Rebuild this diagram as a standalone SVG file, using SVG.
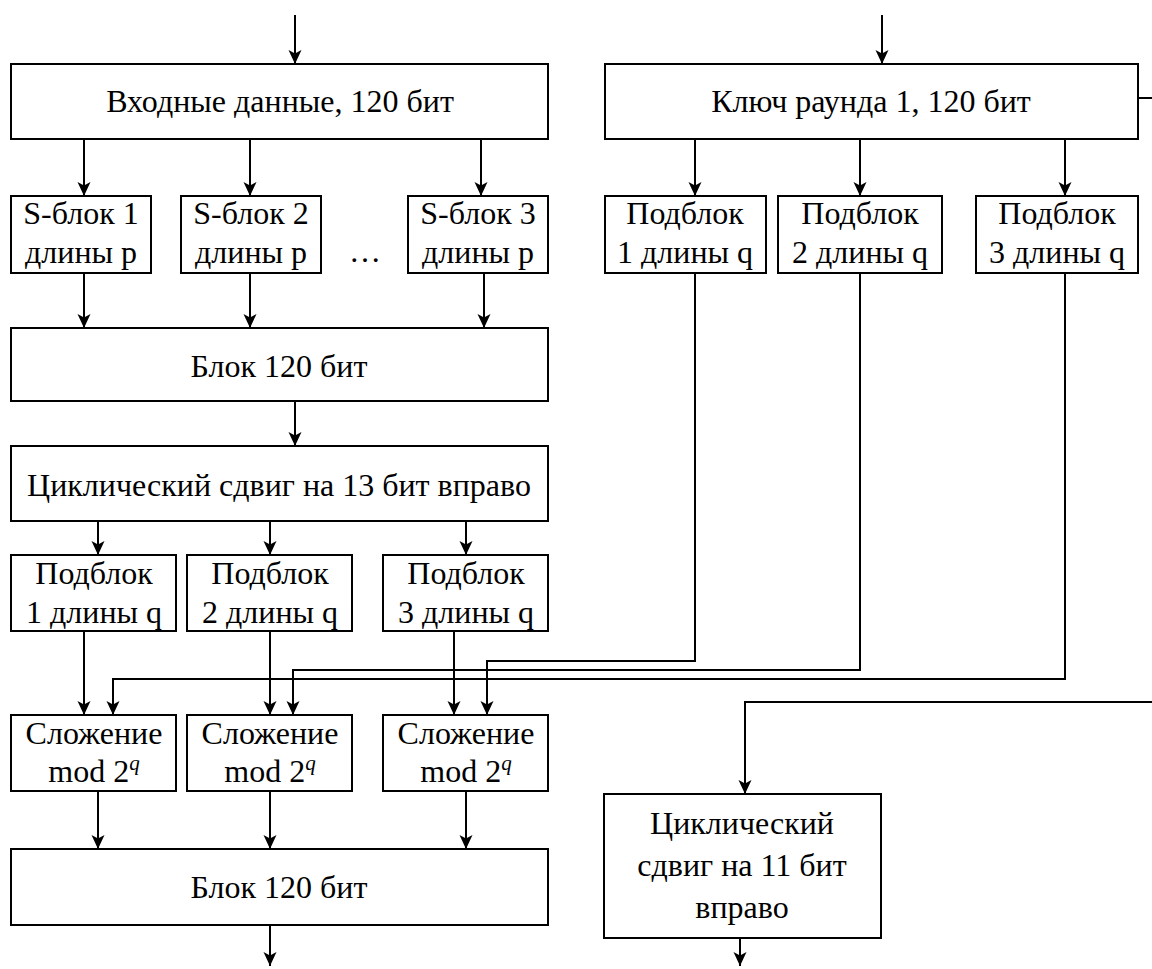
<svg xmlns="http://www.w3.org/2000/svg" width="1152" height="969" viewBox="0 0 1152 969">
<style>
.b{fill:#fff;stroke:#000;stroke-width:2}
.t{font-family:"Liberation Serif","Times New Roman",serif;font-size:32px;text-anchor:middle;fill:#000}
.c{fill:none;stroke:#000;stroke-width:2}
.a{marker-end:url(#ah)}
.sup{font-style:italic;font-size:21px}
</style>
<defs>
<marker id="ah" viewBox="0 0 14 14" refX="14" refY="7" markerWidth="14" markerHeight="14" markerUnits="userSpaceOnUse" orient="auto">
<path d="M0,0.5 L14,7 L0,13.5 L3.5,7 z" fill="#000"/>
</marker>
</defs>
<g id="connectors">
<path class="c a" d="M295,15 V64"/>
<path class="c a" d="M882,15 V64"/>
<path class="c a" d="M84,139 V196"/>
<path class="c a" d="M250,139 V196"/>
<path class="c a" d="M481,139 V196"/>
<path class="c a" d="M84,273 V328"/>
<path class="c a" d="M250,273 V328"/>
<path class="c a" d="M484,273 V328"/>
<path class="c a" d="M295,401 V446"/>
<path class="c a" d="M98,521 V555"/>
<path class="c a" d="M270,521 V555"/>
<path class="c a" d="M466,521 V555"/>
<path class="c a" d="M695,139 V196"/>
<path class="c a" d="M860,139 V196"/>
<path class="c a" d="M1065,139 V196"/>
<path class="c a" d="M84,631 V715"/>
<path class="c a" d="M270,631 V715"/>
<path class="c a" d="M454,631 V715"/>
<path class="c a" d="M695,273 V661 H487 V715"/>
<path class="c a" d="M860,273 V670 H293 V715"/>
<path class="c a" d="M1065,273 V679 H113 V715"/>
<path class="c" d="M1138,98 H1152"/>
<path class="c a" d="M1152,702 H745 V794"/>
<path class="c a" d="M98,791 V849"/>
<path class="c a" d="M270,791 V849"/>
<path class="c a" d="M466,791 V849"/>
<path class="c a" d="M270,925 V966"/>
<path class="c a" d="M740,938 V966"/>
</g>
<g id="input"><rect class="b" x="11" y="64" width="537" height="75"/><text class="t" x="280" y="112">Входные данные, 120 бит</text></g>
<g id="key"><rect class="b" x="605" y="64" width="533" height="75"/><text class="t" x="871" y="112">Ключ раунда 1, 120 бит</text></g>
<g id="s1"><rect class="b" x="11" y="196" width="140" height="77"/><text class="t" x="81" y="224">S-блок 1</text><text class="t" x="81" y="263">длины p</text></g>
<g id="s2"><rect class="b" x="181" y="196" width="140" height="77"/><text class="t" x="251" y="224">S-блок 2</text><text class="t" x="251" y="263">длины p</text></g>
<g id="dots"><text class="t" x="365" y="262">…</text></g>
<g id="s3"><rect class="b" x="408" y="196" width="140" height="77"/><text class="t" x="478" y="224">S-блок 3</text><text class="t" x="478" y="263">длины p</text></g>
<g id="k1"><rect class="b" x="605" y="196" width="161" height="77"/><text class="t" x="685" y="224">Подблок</text><text class="t" x="685" y="263">1 длины q</text></g>
<g id="k2"><rect class="b" x="778" y="196" width="164" height="77"/><text class="t" x="860" y="224">Подблок</text><text class="t" x="860" y="263">2 длины q</text></g>
<g id="k3"><rect class="b" x="976" y="196" width="162" height="77"/><text class="t" x="1057" y="224">Подблок</text><text class="t" x="1057" y="263">3 длины q</text></g>
<g id="blockA"><rect class="b" x="11" y="328" width="537" height="73"/><text class="t" x="279" y="377">Блок 120 бит</text></g>
<g id="shift13"><rect class="b" x="11" y="446" width="537" height="75"/><text class="t" x="279" y="496">Циклический сдвиг на 13 бит вправо</text></g>
<g id="p1"><rect class="b" x="11" y="555" width="165" height="76"/><text class="t" x="94" y="584">Подблок</text><text class="t" x="94" y="623">1 длины q</text></g>
<g id="p2"><rect class="b" x="187" y="555" width="165" height="76"/><text class="t" x="270" y="584">Подблок</text><text class="t" x="270" y="623">2 длины q</text></g>
<g id="p3"><rect class="b" x="383" y="555" width="165" height="76"/><text class="t" x="466" y="584">Подблок</text><text class="t" x="466" y="623">3 длины q</text></g>
<g id="add1"><rect class="b" x="11" y="715" width="165" height="76"/><text class="t" x="94" y="744">Сложение</text><text class="t" x="94" y="782">mod 2<tspan class="sup" dy="-12">q</tspan></text></g>
<g id="add2"><rect class="b" x="187" y="715" width="165" height="76"/><text class="t" x="270" y="744">Сложение</text><text class="t" x="270" y="782">mod 2<tspan class="sup" dy="-12">q</tspan></text></g>
<g id="add3"><rect class="b" x="383" y="715" width="165" height="76"/><text class="t" x="466" y="744">Сложение</text><text class="t" x="466" y="782">mod 2<tspan class="sup" dy="-12">q</tspan></text></g>
<g id="blockB"><rect class="b" x="11" y="849" width="537" height="76"/><text class="t" x="279" y="898">Блок 120 бит</text></g>
<g id="shift11"><rect class="b" x="604" y="794" width="277" height="144"/><text class="t" x="742" y="834">Циклический</text><text class="t" x="742" y="876">сдвиг на 11 бит</text><text class="t" x="742" y="918">вправо</text></g>
</svg>
